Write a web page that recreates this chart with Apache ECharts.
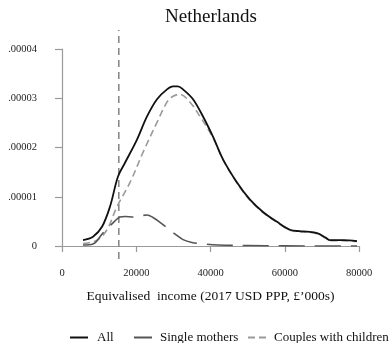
<!DOCTYPE html>
<html>
<head>
<meta charset="utf-8">
<script src="https://cdn.jsdelivr.net/npm/echarts@6/dist/echarts.min.js"></script>
<style>
html,body{margin:0;padding:0;background:#fff;}
#chart{width:392px;height:343px;}
</style>
</head>
<body>
<div id="chart"></div>
<script>
var titleText = 'Netherlands';
var xAxisTitle = 'Equivalised  income (2017 USD PPP, £\u2019000s)';
var seriesNames = ['All', 'Single mothers', 'Couples with children'];
var xTicks = [0, 20000, 40000, 60000, 80000];
var yTickLabels = ['0', '.00001', '.00002', '.00003', '.00004'];
var povertyLine = 15300;

var allX = [5657, 8350, 10775, 12930, 15084, 16970, 20200, 22900, 25590, 28280, 29900, 31200, 32590, 35290, 37980, 40670, 43370, 47140, 50640, 54140, 57910, 61410, 64000, 66000, 68690, 71000, 72190, 75690, 79460];
var allY = [1.2e-6, 1.9e-6, 3.9e-6, 8.0e-6, 1.41e-5, 1.69e-5, 2.16e-5, 2.63e-5, 2.98e-5, 3.18e-5, 3.24e-5, 3.24e-5, 3.18e-5, 2.98e-5, 2.63e-5, 2.22e-5, 1.76e-5, 1.29e-5, 9.4e-6, 6.9e-6, 4.9e-6, 3.3e-6, 3.0e-6, 2.9e-6, 2.6e-6, 1.7e-6, 1.2e-6, 1.2e-6, 1.0e-6];

var smX = [5657, 8350, 11040, 13740, 15620, 17000, 19120, 21000, 22900, 24510, 26400, 28280, 30500, 32600, 35000, 37170, 42000, 50000, 60000, 70000, 79460];
var smY = [2e-7, 4e-7, 2.65e-6, 4.7e-6, 5.9e-6, 6.0e-6, 5.9e-6, 6.1e-6, 6.3e-6, 5.8e-6, 4.8e-6, 3.7e-6, 2.4e-6, 1.3e-6, 7e-7, 5e-7, 2e-7, 1e-7, 3e-8, 0, 0];

var cpX = [5657, 9430, 12120, 14810, 18320, 21820, 25590, 28280, 29900, 31800, 34480, 37170, 40670, 43370, 47140, 50640, 54140, 57910, 61410, 64000, 66000, 68690, 71000, 72190, 75690, 79460];
var cpY = [5e-7, 1.2e-6, 3.3e-6, 8.0e-6, 1.29e-5, 1.9e-5, 2.51e-5, 2.92e-5, 3.04e-5, 3.08e-5, 2.92e-5, 2.63e-5, 2.2e-5, 1.75e-5, 1.28e-5, 9.3e-6, 6.8e-6, 4.8e-6, 3.2e-6, 2.9e-6, 2.8e-6, 2.5e-6, 1.6e-6, 1.1e-6, 1.1e-6, 9e-7];

function pairs(xs, ys) { return xs.map(function (x, i) { return [x, ys[i]]; }); }

var font = 'Liberation Serif';
var chart = echarts.init(document.getElementById('chart'), null, {renderer: 'canvas'});

var legendBase = {
  orient: 'horizontal', top: 326, itemWidth: 18, itemHeight: 10, itemGap: 0,
  itemStyle: {opacity: 0},
  textStyle: {fontFamily: font, fontSize: 13, color: '#111'}
};

chart.setOption({
  animation: false,
  backgroundColor: '#fff',
  title: {
    text: titleText, left: 206, textAlign: 'center', top: 3,
    textStyle: {fontFamily: font, fontSize: 19, fontWeight: 'normal', color: '#111'}
  },
  legend: [
    Object.assign({}, legendBase, {left: 64, data: [seriesNames[0]], textStyle: Object.assign({}, legendBase.textStyle, {padding: [0, 0, 0, 4]})}),
    Object.assign({}, legendBase, {left: 128, data: [seriesNames[1]], textStyle: Object.assign({}, legendBase.textStyle, {padding: [0, 0, 0, 3]})}),
    Object.assign({}, legendBase, {left: 242, data: [seriesNames[2]], textStyle: Object.assign({}, legendBase.textStyle, {padding: [0, 0, 0, 3]})})
  ],
  grid: [
    {left: 62, right: 33, top: 49, bottom: 97, containLabel: false},
    {left: 62, right: 33, top: 30, bottom: 84, containLabel: false}
  ],
  xAxis: [{
    type: 'value', gridIndex: 0, min: xTicks[0], max: xTicks[xTicks.length - 1], interval: 20000,
    offset: 13,
    axisLine: {show: true, lineStyle: {color: '#9a9a9a', width: 1.2}},
    axisTick: {show: true, length: 6, lineStyle: {color: '#9a9a9a', width: 1.2}},
    splitLine: {show: false},
    axisLabel: {fontFamily: font, fontSize: 10.5, color: '#222', margin: 9,
      formatter: function (v) { return String(v); }},
    name: xAxisTitle, nameLocation: 'middle', nameGap: 30,
    nameTextStyle: {fontFamily: font, fontSize: 13.5, color: '#111'}
  }, {
    type: 'value', gridIndex: 1, min: xTicks[0], max: xTicks[xTicks.length - 1], show: false
  }],
  yAxis: [{
    type: 'value', gridIndex: 0, min: 0, max: 0.00004, interval: 0.00001,
    offset: 13,
    axisLine: {show: true, lineStyle: {color: '#9a9a9a', width: 1.2}},
    axisTick: {show: true, length: 7, lineStyle: {color: '#9a9a9a', width: 1.2}},
    splitLine: {show: false},
    axisLabel: {
      fontFamily: font, fontSize: 10.5, color: '#222', margin: 12,
      formatter: function (v) { return yTickLabels[Math.round(v / 0.00001)]; }
    }
  }, {
    type: 'value', gridIndex: 1, min: 0, max: 1, show: false
  }],
  series: [{
    name: 'poverty', type: 'line', xAxisIndex: 1, yAxisIndex: 1, symbol: 'none', silent: true,
    data: [[povertyLine, 0], [povertyLine, 1]],
    lineStyle: {color: '#8a8a8a', width: 1.6, type: [7, 5]}
  }, {
    name: seriesNames[2], type: 'line', smooth: 0.35, symbol: 'none',
    data: pairs(cpX, cpY),
    lineStyle: {color: '#9a9a9a', width: 1.6, type: [7, 4]},
    itemStyle: {color: '#9a9a9a'}
  }, {
    name: seriesNames[1], type: 'line', smooth: 0.35, symbol: 'none',
    data: pairs(smX, smY),
    lineStyle: {color: '#555', width: 1.6, type: [26, 10]},
    itemStyle: {color: '#555'}
  }, {
    name: seriesNames[0], type: 'line', smooth: 0.35, symbol: 'none', z: 3,
    data: pairs(allX, allY),
    lineStyle: {color: '#111', width: 1.8},
    itemStyle: {color: '#111'}
  }]
});
</script>
</body>
</html>
